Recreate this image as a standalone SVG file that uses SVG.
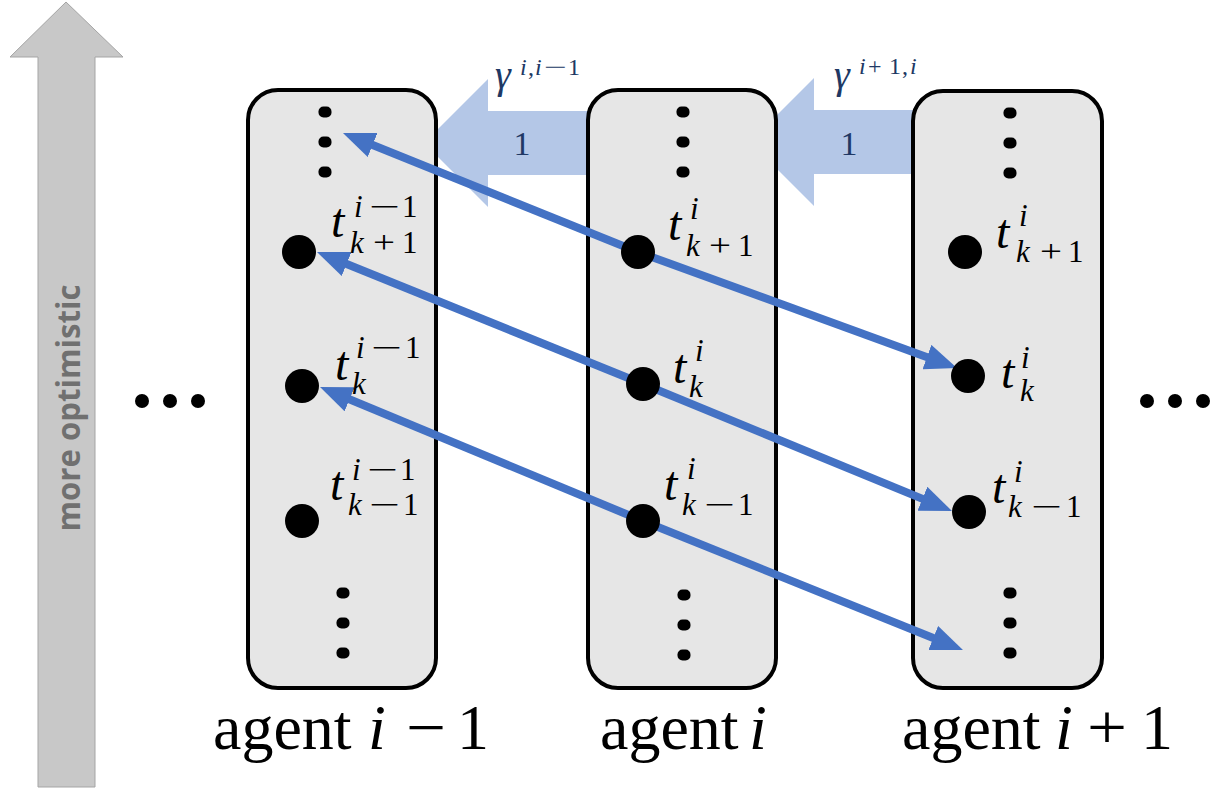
<svg xmlns="http://www.w3.org/2000/svg" width="1216" height="792" viewBox="0 0 1216 792">
<style>
.box{fill:#e6e6e6;stroke:#000;stroke-width:4}
.dot{fill:#000}
.st{fill:#000}
.m{font-family:"Liberation Serif","Times New Roman",serif;fill:#000}
.it{font-style:italic}
.T{font-size:48px}
.S{font-size:31px}
.ag{font-family:"Liberation Serif",serif;font-size:64px;fill:#000}
.g{font-family:"Liberation Serif",serif;fill:#203864}
.conn{stroke:#4472c4;stroke-width:8;fill:none;marker-end:url(#ah)}
.wide{fill:#b4c7e7}
</style>
<defs>
<marker id="ah" markerUnits="userSpaceOnUse" markerWidth="32" markerHeight="26" refX="12" refY="13" orient="auto">
<path d="M0,0 L32,13 L0,26 z" fill="#4472c4"/>
</marker>
</defs>
<rect width="1216" height="792" fill="#fff"/>

<g id="optimism-axis">
<polygon points="66,2 123,57 95,57 95,787 38,787 38,57 10,57" fill="#c8c8c8" stroke="#a5a5a5" stroke-width="1"/>
<text transform="translate(80,408) rotate(-90)" text-anchor="middle" font-family="Open Sans, sans-serif" font-weight="bold" font-size="32" fill="#707070" textLength="247" lengthAdjust="spacingAndGlyphs">more optimistic</text>
</g>

<g id="ellipsis-left"><circle cx="142" cy="401" r="7"/><circle cx="170" cy="401" r="7"/><circle cx="198" cy="401" r="7"/></g>
<g id="ellipsis-right"><circle cx="1147" cy="401" r="7"/><circle cx="1175" cy="401" r="7"/><circle cx="1203" cy="401" r="7"/></g>

<g id="gamma-i-im1">
<rect class="wide" x="487" y="111" width="101" height="64"/>
<polygon class="wide" points="488,79 424,143 488,207"/>
<text class="g" x="522" y="155" font-size="34" text-anchor="middle">1</text>
<text class="g" y="88" font-size="40"><tspan class="it" x="495">γ</tspan><tspan class="it" x="520" y="75" font-size="24">i</tspan><tspan x="528" y="75" font-size="24">,</tspan><tspan class="it" x="535" y="75" font-size="24">i</tspan><tspan x="544" y="75" font-size="24" textLength="23" lengthAdjust="spacingAndGlyphs">−</tspan><tspan x="568" y="75" font-size="24">1</tspan></text>
</g>
<g id="gamma-ip1-i">
<rect class="wide" x="813" y="110" width="100" height="64"/>
<polygon class="wide" points="814,78 750,142 814,206"/>
<text class="g" x="849" y="155" font-size="34" text-anchor="middle">1</text>
<text class="g" y="88" font-size="40"><tspan class="it" x="834">γ</tspan><tspan class="it" x="859" y="74" font-size="24">i</tspan><tspan x="868" y="74" font-size="24">+</tspan><tspan x="889" y="74" font-size="24">1</tspan><tspan x="902" y="74" font-size="24">,</tspan><tspan class="it" x="910" y="74" font-size="24">i</tspan></text>
</g>

<g id="agent-im1">
<rect class="box" x="248" y="90" width="188" height="598" rx="30"/>
<rect class="dot" x="318.5" y="106.5" width="13" height="11" rx="5"/>
<rect class="dot" x="318.5" y="136.5" width="13" height="11" rx="5"/>
<rect class="dot" x="318.5" y="166.5" width="13" height="11" rx="5"/>
<rect class="dot" x="336.5" y="587.5" width="13" height="11" rx="5"/>
<rect class="dot" x="336.5" y="617.5" width="13" height="11" rx="5"/>
<rect class="dot" x="336.5" y="647.5" width="13" height="11" rx="5"/>
<text class="ag" y="749"><tspan x="213">agent</tspan><tspan x="368" font-style="italic">i</tspan><tspan x="406" textLength="40" lengthAdjust="spacingAndGlyphs">−</tspan><tspan x="457">1</tspan></text>
</g>
<g id="agent-i">
<rect class="box" x="588" y="90" width="188" height="598" rx="30"/>
<rect class="dot" x="676.5" y="106.5" width="13" height="11" rx="5"/>
<rect class="dot" x="676.5" y="136.5" width="13" height="11" rx="5"/>
<rect class="dot" x="676.5" y="166.5" width="13" height="11" rx="5"/>
<rect class="dot" x="677.5" y="589.5" width="13" height="11" rx="5"/>
<rect class="dot" x="677.5" y="619.5" width="13" height="11" rx="5"/>
<rect class="dot" x="677.5" y="649.5" width="13" height="11" rx="5"/>
<text class="ag" y="749"><tspan x="600">agent</tspan><tspan x="749" font-style="italic">i</tspan></text>
</g>
<g id="agent-ip1">
<rect class="box" x="913" y="91" width="189" height="597" rx="30"/>
<rect class="dot" x="1003.5" y="107.5" width="13" height="11" rx="5"/>
<rect class="dot" x="1003.5" y="137.5" width="13" height="11" rx="5"/>
<rect class="dot" x="1003.5" y="167.5" width="13" height="11" rx="5"/>
<rect class="dot" x="1003.5" y="587.5" width="13" height="11" rx="5"/>
<rect class="dot" x="1003.5" y="617.5" width="13" height="11" rx="5"/>
<rect class="dot" x="1003.5" y="647.5" width="13" height="11" rx="5"/>
<text class="ag" y="749"><tspan x="902">agent</tspan><tspan x="1055" font-style="italic">i</tspan><tspan x="1087" textLength="40" lengthAdjust="spacingAndGlyphs">+</tspan><tspan x="1141">1</tspan></text>
</g>

<g id="connectors">
<line class="conn" x1="638" y1="252" x2="361.5" y2="140.5"/>
<line class="conn" x1="638" y1="252" x2="938.2" y2="361.2"/>
<line class="conn" x1="643" y1="384" x2="335.5" y2="259.5"/>
<line class="conn" x1="643" y1="384" x2="933.5" y2="503.4"/>
<line class="conn" x1="643" y1="521" x2="338.5" y2="394.7"/>
<line class="conn" x1="643" y1="521" x2="944.4" y2="642.5"/>
</g>

<g id="s-im1-kp1">
<circle class="st" cx="299" cy="252" r="17"/>
<text class="m"><tspan class="T it" x="331" y="237">t</tspan><tspan class="S it" x="354" y="217">i</tspan><tspan class="S" x="369" y="217" textLength="31" lengthAdjust="spacingAndGlyphs">−</tspan><tspan class="S" x="402" y="217">1</tspan><tspan class="S it" x="350" y="253">k</tspan><tspan class="S" x="373" y="253" textLength="22" lengthAdjust="spacingAndGlyphs">+</tspan><tspan class="S" x="402" y="253">1</tspan></text>
</g>
<g id="s-im1-k">
<circle class="st" cx="302" cy="386" r="17"/>
<text class="m"><tspan class="T it" x="335" y="380">t</tspan><tspan class="S it" x="356" y="358">i</tspan><tspan class="S" x="371" y="358" textLength="31" lengthAdjust="spacingAndGlyphs">−</tspan><tspan class="S" x="405" y="358">1</tspan><tspan class="S it" x="352" y="394">k</tspan></text>
</g>
<g id="s-im1-km1">
<circle class="st" cx="302" cy="521" r="17"/>
<text class="m"><tspan class="T it" x="330" y="500">t</tspan><tspan class="S it" x="352" y="480">i</tspan><tspan class="S" x="367" y="480" textLength="31" lengthAdjust="spacingAndGlyphs">−</tspan><tspan class="S" x="400" y="480">1</tspan><tspan class="S it" x="348" y="515">k</tspan><tspan class="S" x="369" y="515" textLength="31" lengthAdjust="spacingAndGlyphs">−</tspan><tspan class="S" x="403" y="515">1</tspan></text>
</g>

<g id="s-i-kp1">
<circle class="st" cx="638" cy="252" r="17"/>
<text class="m"><tspan class="T it" x="668" y="240">t</tspan><tspan class="S it" x="690" y="219">i</tspan><tspan class="S it" x="686" y="256">k</tspan><tspan class="S" x="709" y="256" textLength="22" lengthAdjust="spacingAndGlyphs">+</tspan><tspan class="S" x="738" y="256">1</tspan></text>
</g>
<g id="s-i-k">
<circle class="st" cx="643" cy="384" r="17"/>
<text class="m"><tspan class="T it" x="673" y="383">t</tspan><tspan class="S it" x="695" y="361">i</tspan><tspan class="S it" x="689" y="397">k</tspan></text>
</g>
<g id="s-i-km1">
<circle class="st" cx="643" cy="521" r="17"/>
<text class="m"><tspan class="T it" x="664" y="500">t</tspan><tspan class="S it" x="687" y="479">i</tspan><tspan class="S it" x="682" y="515">k</tspan><tspan class="S" x="704" y="515" textLength="31" lengthAdjust="spacingAndGlyphs">−</tspan><tspan class="S" x="738" y="515">1</tspan></text>
</g>

<g id="s-ip1-kp1">
<circle class="st" cx="965" cy="252" r="17"/>
<text class="m"><tspan class="T it" x="996" y="248">t</tspan><tspan class="S it" x="1019" y="226">i</tspan><tspan class="S it" x="1016" y="262">k</tspan><tspan class="S" x="1040" y="262" textLength="22" lengthAdjust="spacingAndGlyphs">+</tspan><tspan class="S" x="1068" y="262">1</tspan></text>
</g>
<g id="s-ip1-k">
<circle class="st" cx="968" cy="376" r="17"/>
<text class="m"><tspan class="T it" x="1001" y="388">t</tspan><tspan class="S it" x="1021" y="368">i</tspan><tspan class="S it" x="1020" y="401">k</tspan></text>
</g>
<g id="s-ip1-km1">
<circle class="st" cx="969" cy="512" r="17"/>
<text class="m"><tspan class="T it" x="992" y="503">t</tspan><tspan class="S it" x="1014" y="482">i</tspan><tspan class="S it" x="1008" y="517">k</tspan><tspan class="S" x="1031" y="517" textLength="31" lengthAdjust="spacingAndGlyphs">−</tspan><tspan class="S" x="1066" y="517">1</tspan></text>
</g>
</svg>
